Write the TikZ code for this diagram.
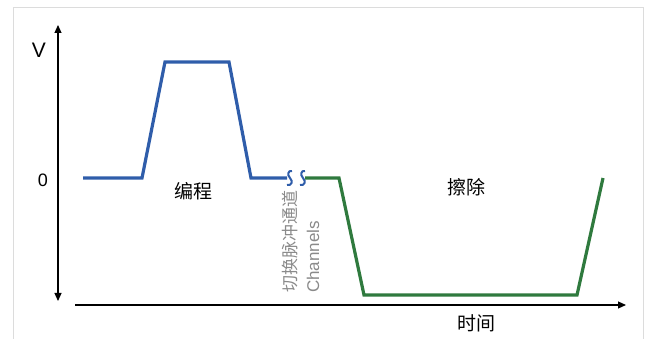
\documentclass[tikz,border=0pt]{standalone}
\usepackage{fontspec}
\setmainfont{Liberation Sans}
\newfontfamily\cjk{Noto Sans CJK SC}
\usetikzlibrary{arrows.meta}
\definecolor{pblue}{HTML}{2F5DAA}
\definecolor{pgreen}{HTML}{2F7A3E}
\definecolor{frame}{HTML}{DCDCDC}
\definecolor{ltext}{HTML}{8A8A8A}
\tikzset{
  axis/.style={line width=1.2pt,-{Triangle[length=8pt,width=7pt]}},
  wave/.style={line width=3.2pt,line join=miter},
  lbl/.style={inner sep=0pt,font=\fontsize{16}{18}\selectfont},
  cjklbl/.style={inner sep=0pt,font=\cjk\fontsize{19}{21}\selectfont},
  brk/.style={line width=2pt,pblue}
}
\begin{document}
\begin{tikzpicture}[x=1pt,y=-1pt]
\useasboundingbox (0,0) rectangle (646,339);
\begin{scope}
\clip (0,0) rectangle (646,339);
\draw[frame,line width=1pt] (13,350) -- (13,8) -- (643,8) -- (643,350);
\end{scope}
% axes
\coordinate (vc) at (58,178);
\coordinate (vtop) at (58,25);
\coordinate (vbot) at (58,301);
\coordinate (hstart) at (75,305);
\coordinate (hend) at (626,305);
\draw[axis] (vc) -- (vtop);
\draw[axis] (vc) -- (vbot);
\draw[axis] (hstart) -- (hend);
% labels
\node[lbl,font=\fontsize{21}{23}\selectfont] (V) at (39,50) {V};
\node[lbl,font=\fontsize{18}{20}\selectfont] (zero) at (43,180) {0};
\node[cjklbl] (prog) at (193,191) {编程};
\node[cjklbl] (erase) at (466,187) {擦除};
\node[cjklbl] (time) at (476,323) {时间};
\node[lbl,rotate=90,text=ltext,font=\cjk\fontsize{17}{19}\selectfont] (switch) at (290,242) {切换脉冲通道};
\node[lbl,rotate=90,text=ltext,font=\fontsize{17}{19}\selectfont] (chan) at (313,257) {Channels};
% program pulse
\draw[wave,pblue] (83,178) -- (142,178) -- (165,62) -- (229,62) -- (251,178) -- (287,178);
% break marks
\draw[brk] (292,171) .. controls (288,170) and (287,175) .. (290,178) .. controls (293,181) and (292,186) .. (287,185);
\draw[brk] (305,171) .. controls (301,170) and (300,175) .. (303,178) .. controls (306,181) and (305,186) .. (300,185);
% erase pulse
\draw[wave,pgreen] (305,178) -- (339,178) -- (364,295) -- (577,295) -- (603,178);
\end{tikzpicture}
\end{document}
